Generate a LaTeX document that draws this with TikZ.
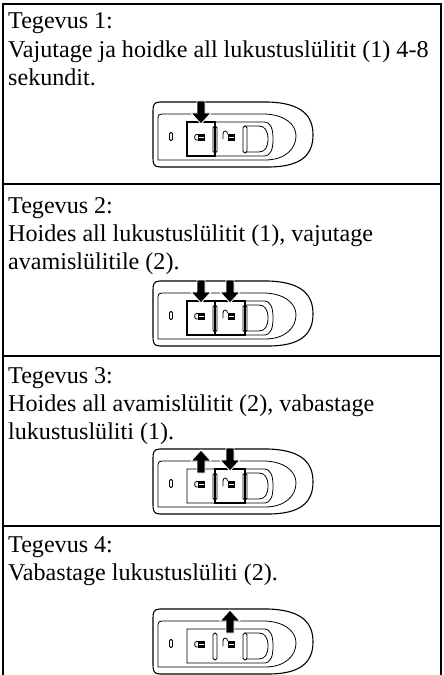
\documentclass[tikz,border=0pt]{standalone}
\usepackage{fontspec}
\setmainfont{Liberation Serif}
\tikzset{
    border line/.style={line width=2.5bp},
    steptext/.style={anchor=base west, inner sep=0pt, text width=434bp, align=flush left,
        font=\fontsize{24.1bp}{28.3bp}\selectfont},
    shell/.style={line width=1.1bp, line join=round},
    thin part/.style={line width=0.8bp},
    held/.style={line width=2.6bp},
    push/.style={fill=black, draw=white, line width=0.9bp},
    % remote key, origin at the left end of its middle line
    keyfob/.pic={
        \draw[shell] (7,-33) -- (115,-33) .. controls (148,-32) and (160,-20) .. (160,0)
            .. controls (160,20) and (148,32) .. (115,32) -- (7,32)
            .. controls (1,32) and (0,29) .. (0,23) -- (0,-24)
            .. controls (0,-30) and (1,-33) .. (7,-33) -- cycle;
        \draw[thin part] (5,25) -- (5,-17) .. controls (5,-20) and (6,-21) .. (9,-21) -- (112,-21)
            .. controls (133,-20) and (143,-10) .. (143,1)
            .. controls (143,13) and (133,25) .. (112,25) -- cycle;
        \draw[thin part] (34,-13) -- (111,-13) .. controls (118,-13) and (120,-6) .. (120,4)
            .. controls (120,14) and (118,21) .. (111,21) -- (34,21) -- cycle;
        \draw[thin part] (92,-9) -- (106,-9) .. controls (112,-9) and (115,-4) .. (115,4)
            .. controls (115,12) and (112,17) .. (106,17) -- (92,17);
        \foreach \x in {62,92}
            \filldraw[thin part, fill=white, rounded corners=1.8bp] (\x-2,-9) rectangle (\x+2,18);
        \draw[thin part, rounded corners=1.3bp] (16.5,-2.5) rectangle (19.5,5.5);
        % closed padlock
        \fill (45,-1) rectangle (52,5.5);
        \draw[white, line width=0.7bp] (46,2.2) -- (51,2.2);
        \draw[thin part] (45,-0.5) -- (43.5,-0.5) .. controls (41,-0.5) and (41,5) .. (43.5,5) -- (45,5);
        % open padlock
        \fill (75,-1) rectangle (82,5.5);
        \draw[white, line width=0.7bp] (76,2.2) -- (81,2.2);
        \draw[thin part] (70,4) -- (70,-1) .. controls (70,-5) and (74.5,-5) .. (74.5,-1);
    },
    press/.pic={
        \filldraw[push] (0,0) -- (-10,-11) -- (-4,-11) -- (-4,-23) -- (4,-23) -- (4,-11) -- (10,-11) -- cycle;
    },
    lift/.pic={
        \filldraw[push] (0,-24) -- (-10,-13) -- (-4,-13) -- (-4,-1) -- (4,-1) -- (4,-13) -- (10,-13) -- cycle;
    },
}
\begin{document}
\begin{tikzpicture}[x=1bp, y=-1bp]
    \useasboundingbox (0,0) rectangle (444,675);
    \draw[border line] (3,676) -- (3,4) -- (441,4) -- (441,676);
    \foreach \y in {184,356,526}
        \draw[border line] (3,\y) -- (441,\y);

    \node[steptext] (step1) at (8,29) {Tegevus 1:\\Vajutage ja hoidke all lukustuslülitit (1) 4-8\\sekundit.};
    \node[steptext] (step2) at (8,213) {Tegevus 2:\\Hoides all lukustuslülitit (1), vajutage\\avamislülitile (2).};
    \node[steptext] (step3) at (8,383) {Tegevus 3:\\Hoides all avamislülitit (2), vabastage\\lukustuslüliti (1).};
    \node[steptext] (step4) at (8,552) {Tegevus 4:\\Vabastage lukustuslüliti (2).};

    \begin{scope}[shift={(153,135)}]
        \pic {keyfob};
        \draw[held] (34,-13) rectangle (62,21);
        \pic at (48,-11) {press};
    \end{scope}
    \begin{scope}[shift={(153,314)}]
        \pic {keyfob};
        \draw[held] (34,-13) rectangle (92,21) (62,-13) -- (62,21);
        \pic at (48,-11) {press};
        \pic at (77,-11) {press};
    \end{scope}
    \begin{scope}[shift={(153,482)}]
        \pic {keyfob};
        \draw[held] (62,-13) rectangle (92,21);
        \pic at (48,-8) {lift};
        \pic at (77,-11) {press};
    \end{scope}
    \begin{scope}[shift={(153,642)}]
        \pic {keyfob};
        \pic at (77,-8) {lift};
    \end{scope}
\end{tikzpicture}
\end{document}
